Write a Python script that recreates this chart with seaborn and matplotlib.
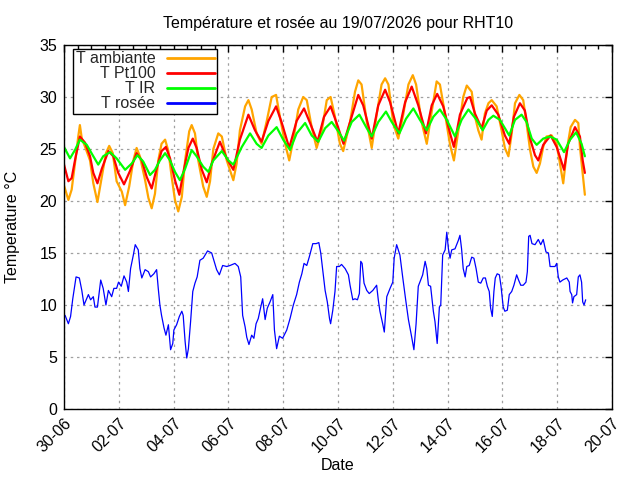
import numpy as np
import pandas as pd
import matplotlib
matplotlib.use("Agg")
import matplotlib.pyplot as plt
import matplotlib.dates as mdates
import seaborn as sns

# ---------------- data (day offsets from 2026-06-30 00:00) ----------------
amb_days = [0.00, 0.16, 0.28, 0.40, 0.52, 0.58, 0.65, 0.77, 0.95, 1.07, 1.22, 1.38, 1.53, 1.65, 1.78, 1.92,
            2.11, 2.23, 2.38, 2.53, 2.65, 2.77, 2.96, 3.08, 3.20, 3.32, 3.44, 3.56, 3.69, 3.81, 3.93, 4.05,
            4.17, 4.30, 4.42, 4.57, 4.66, 4.78, 4.90, 5.08, 5.21, 5.33, 5.45, 5.63, 5.76, 5.94, 6.18, 6.30,
            6.42, 6.61, 6.73, 6.85, 7.03, 7.21, 7.40, 7.58, 7.74, 7.88, 8.07, 8.22, 8.37, 8.55, 8.73, 8.86,
            9.04, 9.22, 9.41, 9.59, 9.73, 9.89, 10.07, 10.19, 10.44, 10.62, 10.74, 10.86, 11.05, 11.23, 11.41,
            11.59, 11.72, 11.84, 12.02, 12.20, 12.38, 12.57, 12.73, 12.85, 13.05, 13.24, 13.42, 13.60, 13.72,
            13.91, 14.09, 14.23, 14.39, 14.57, 14.70, 14.88, 15.00, 15.12, 15.24, 15.36, 15.49, 15.61, 15.79,
            15.97, 16.09, 16.22, 16.34, 16.46, 16.62, 16.76, 16.88, 17.01, 17.13, 17.25, 17.37, 17.49, 17.61,
            17.80, 17.98, 18.10, 18.22, 18.37, 18.49, 18.65, 18.77, 18.83, 18.93, 19.01]
amb_vals = [21.5, 20.1, 21.1, 23.6, 26.2, 27.3, 26.0, 25.2, 23.9, 21.7, 19.9, 22.3, 24.6, 25.3, 24.6, 21.9,
            20.9, 19.6, 21.4, 23.9, 25.1, 24.3, 22.0, 20.3, 19.3, 20.7, 23.9, 25.5, 25.9, 24.8, 22.3, 20.1,
            19.0, 20.4, 23.9, 26.7, 27.3, 26.5, 23.9, 21.4, 20.4, 21.9, 25.0, 26.5, 26.2, 23.9, 22.0, 23.6,
            26.8, 29.1, 29.7, 28.8, 26.5, 25.5, 27.7, 30.0, 30.2, 28.1, 25.5, 23.9, 25.9, 28.8, 30.0, 29.7,
            27.1, 25.1, 26.8, 29.7, 30.0, 28.1, 25.5, 24.8, 27.6, 30.5, 31.6, 31.2, 27.6, 25.1, 28.3,
            31.2, 31.8, 31.2, 27.4, 26.0, 28.3, 31.2, 32.1, 31.2, 27.6, 25.5, 28.6, 31.5, 31.2,
            28.3, 25.4, 23.9, 26.7, 30.0, 31.1, 30.5, 28.1, 26.8, 25.9, 28.4, 29.4, 29.7, 29.1,
            26.8, 25.1, 24.3, 26.5, 29.4, 30.2, 29.7, 27.5, 24.9, 23.3, 22.7, 23.6, 25.2, 26.2,
            26.3, 25.5, 23.6, 21.7, 25.2, 27.1, 27.8, 27.5, 25.2, 22.7, 20.6]

pt_days = [0.00, 0.16, 0.28, 0.40, 0.58, 0.77, 0.95, 1.07, 1.22, 1.38, 1.62, 1.80, 1.98, 2.19, 2.41, 2.65,
           2.84, 3.02, 3.20, 3.38, 3.56, 3.72, 3.87, 4.05, 4.21, 4.35, 4.54, 4.70, 4.84, 5.03, 5.21, 5.39,
           5.69, 5.94, 6.18, 6.42, 6.73, 6.97, 7.21, 7.46, 7.74, 7.95, 8.22, 8.49, 8.76, 8.98, 9.25, 9.49,
           9.73, 9.95, 10.20, 10.44, 10.74, 10.92, 11.23, 11.47, 11.72, 11.90, 12.20, 12.45, 12.69, 12.93,
           13.21, 13.42, 13.62, 13.84, 14.09, 14.23, 14.45, 14.72, 14.82, 15.00, 15.24, 15.43, 15.61, 15.85,
           16.09, 16.25, 16.42, 16.64, 16.82, 17.01, 17.19, 17.31, 17.49, 17.76, 17.98, 18.25, 18.40, 18.65,
           18.83, 18.93, 19.01]
pt_vals = [23.5, 21.9, 22.2, 23.9, 26.2, 25.6, 24.3, 22.7, 21.7, 23.1, 24.8, 24.3, 22.7, 21.6, 22.9, 24.6,
           23.9, 22.3, 21.2, 23.1, 24.8, 25.2, 24.1, 22.0, 20.6, 22.7, 25.1, 26.0, 25.1, 23.0, 21.8, 23.6,
           25.7, 24.1, 23.0, 25.9, 28.3, 26.8, 25.7, 27.7, 29.1, 27.5, 25.1, 27.7, 28.9, 27.5, 25.7, 28.1,
           29.1, 27.5, 25.5, 27.6, 30.2, 29.2, 26.0, 29.2, 30.7, 29.5, 26.5, 29.5, 31.0, 29.2,
           26.5, 29.2, 30.3, 29.1, 26.5, 25.2, 28.3, 29.9, 30.0, 28.4, 27.0, 28.7, 29.2, 28.3,
           26.3, 25.5, 28.1, 29.4, 28.7, 26.0, 24.4, 23.9, 25.4, 26.3, 25.2, 23.0, 25.5, 27.1,
           26.2, 23.9, 22.7]

ir_days = [0.00, 0.22, 0.40, 0.58, 0.83, 1.07, 1.25, 1.43, 1.68, 1.92, 2.23, 2.47, 2.68, 2.89, 3.14, 3.32,
           3.50, 3.69, 3.87, 4.05, 4.23, 4.42, 4.66, 4.84, 5.08, 5.27, 5.45, 5.76, 6.00, 6.18, 6.49, 6.79,
           7.03, 7.21, 7.46, 7.76, 8.00, 8.25, 8.49, 8.80, 9.04, 9.28, 9.53, 9.77, 10.01, 10.22, 10.50, 10.78,
           11.05, 11.23, 11.47, 11.75, 11.96, 12.24, 12.48, 12.75, 12.99, 13.24, 13.48, 13.72, 13.97, 14.27,
           14.51, 14.76, 14.82, 15.06, 15.28, 15.49, 15.67, 15.91, 16.25, 16.46, 16.70, 16.88, 17.07, 17.25,
           17.49, 17.74, 17.98, 18.25, 18.47, 18.69, 18.89, 19.01]
ir_vals = [25.2, 24.1, 24.9, 25.9, 25.4, 24.3, 23.5, 24.3, 24.7, 24.1, 23.0, 23.6, 24.4, 23.8, 22.5, 23.0,
           23.9, 24.6, 23.9, 22.8, 22.0, 23.1, 24.9, 24.3, 23.3, 22.8, 23.9, 24.8, 23.9, 23.5, 25.2, 26.5,
           25.5, 25.1, 26.3, 27.1, 25.9, 24.9, 26.5, 27.5, 26.3, 25.7, 27.0, 27.6, 26.7, 25.8, 27.6, 28.3,
           27.0, 26.2, 27.6, 28.6, 27.6, 26.5, 27.9, 28.9, 27.8, 26.8, 28.1, 28.8, 27.8, 26.2,
           27.8, 28.8, 28.6, 27.8, 26.8, 27.8, 28.2, 27.8, 26.3, 27.8, 28.3, 27.6, 26.0, 25.4,
           26.0, 26.2, 25.9, 24.7, 25.9, 26.6, 25.5, 24.3]

dew_days = [0.04, 0.16, 0.24, 0.32, 0.44, 0.56, 0.65, 0.73, 0.89, 0.97, 1.07, 1.13, 1.22, 1.34, 1.43, 1.53,
            1.62, 1.74, 1.82, 1.92, 1.99, 2.09, 2.19, 2.29, 2.35, 2.43, 2.53, 2.60, 2.71, 2.77, 2.84, 2.96,
            3.08, 3.16, 3.28, 3.38, 3.44, 3.50, 3.56, 3.65, 3.72, 3.81, 3.89, 3.97, 4.01, 4.11, 4.21, 4.30,
            4.35, 4.42, 4.48, 4.54, 4.62, 4.70, 4.78, 4.86, 4.96, 5.08, 5.24, 5.39, 5.47, 5.57, 5.67, 5.79,
            5.94, 6.06, 6.24, 6.36, 6.45, 6.52, 6.61, 6.67, 6.75, 6.85, 6.93, 7.01, 7.09, 7.18, 7.25, 7.34,
            7.42, 7.52, 7.62, 7.68, 7.76, 7.86, 7.98, 8.13, 8.25, 8.37, 8.49, 8.59, 8.68, 8.76, 8.86, 8.95,
            9.08, 9.20, 9.30, 9.37, 9.44, 9.53, 9.61, 9.69, 9.73, 9.81, 9.89, 9.95, 10.05, 10.13, 10.26, 10.38,
            10.44, 10.54, 10.62, 10.71, 10.78, 10.83, 10.88, 10.95, 11.05, 11.14, 11.27, 11.41, 11.47, 11.53,
            11.63, 11.69, 11.78, 11.90, 12.00, 12.05, 12.14, 12.26, 12.36, 12.47, 12.57, 12.69, 12.77, 12.85,
            12.93, 13.09, 13.18, 13.24, 13.30, 13.38, 13.48, 13.54, 13.58, 13.62, 13.70, 13.75, 13.82, 13.91,
            13.97, 14.03, 14.09, 14.15, 14.27, 14.39, 14.45, 14.51, 14.57, 14.64, 14.70, 14.79, 14.88, 14.96,
            15.04, 15.12, 15.21, 15.30, 15.38, 15.45, 15.52, 15.57, 15.63, 15.69, 15.74, 15.81, 15.89, 15.95,
            16.03, 16.09, 16.18, 16.25, 16.34, 16.42, 16.52, 16.59, 16.67, 16.76, 16.86, 16.91, 16.96, 17.01,
            17.08, 17.19, 17.31, 17.40, 17.49, 17.59, 17.68, 17.74, 17.84, 17.92, 17.98, 18.04, 18.10, 18.20,
            18.35, 18.44, 18.47, 18.53, 18.56, 18.61, 18.71, 18.77, 18.83, 18.89, 18.93, 18.98, 19.04]
dew_vals = [9.0, 8.2, 8.9, 10.6, 12.7, 12.6, 11.4, 10.0, 11.0, 10.5, 10.8, 9.8, 9.8, 12.4, 11.6, 10.0,
            11.4, 10.8, 11.6, 11.6, 12.2, 11.8, 12.8, 12.2, 11.3, 13.5, 14.8, 15.8, 15.3, 13.5, 12.6, 13.4,
            13.2, 12.7, 13.0, 13.4, 11.6, 10.0, 9.0, 7.8, 7.1, 8.1, 5.7, 6.3, 7.6, 8.1, 8.9, 9.4,
            9.0, 6.5, 4.9, 5.8, 8.4, 11.3, 12.1, 12.7, 14.3, 14.5, 15.2, 15.0, 14.3, 13.4, 12.9, 13.8,
            13.7, 13.8, 14.0, 13.7, 12.7, 9.0, 7.9, 6.9, 6.2, 7.1, 6.8, 8.2, 8.7, 9.8, 10.6, 8.6,
            9.7, 10.3, 11.0, 7.6, 5.8, 7.0, 6.8, 7.6, 8.7, 10.0, 11.0, 12.2, 13.0, 14.0, 13.8, 14.6,
            15.9, 15.9, 16.0, 15.0, 13.4, 11.4, 10.3, 8.7, 8.2, 9.5, 11.3, 13.7, 13.7, 13.9, 13.5, 12.9,
            11.9, 10.5, 10.6, 10.5, 11.1, 14.2, 14.0, 12.1, 11.4, 11.1, 11.4, 11.9, 10.5, 9.4,
            8.2, 7.4, 10.8, 11.6, 12.2, 14.5, 15.8, 14.8, 12.7, 10.5, 8.6, 6.9, 5.7, 8.2,
            11.8, 12.9, 14.2, 13.5, 11.9, 11.8, 9.4, 8.4, 7.4, 6.3, 9.8, 10.0, 14.8, 15.3,
            17.0, 15.4, 14.5, 15.3, 15.4, 16.2, 16.7, 15.4, 13.5, 12.7, 13.7, 13.8, 14.6, 14.5,
            13.5, 12.2, 12.1, 12.6, 12.6, 11.8, 11.3, 9.7, 8.9, 11.3, 12.6, 13.0, 12.9, 11.8,
            9.8, 9.4, 9.5, 11.0, 11.3, 11.9, 12.9, 12.4, 11.9, 11.9, 12.2, 13.2, 16.6, 16.7,
            15.9, 15.8, 16.3, 15.8, 16.3, 15.1, 15.0, 13.7, 13.7, 13.7, 14.0, 12.7, 12.2, 12.4,
            12.6, 12.2, 11.3, 11.0, 10.2, 10.8, 11.0, 12.7, 12.9, 12.2, 10.3, 10.0, 10.5]

series_labels = ["T ambiante", "T Pt100", "T IR", "T rosée"]
series_colors = ["#ffa500", "#ff0000", "#00ff00", "#0000ff"]
x_tick_dates = pd.date_range("2026-06-30", "2026-07-20", freq="2D")
title_text = "Température et rosée au 19/07/2026 pour RHT10"

start = pd.Timestamp("2026-06-30 00:00")


def to_df(days, vals):
    return pd.DataFrame({"t": start + pd.to_timedelta(np.asarray(days), unit="D"),
                         "v": np.asarray(vals, dtype=float)})


frames = [to_df(amb_days, amb_vals), to_df(pt_days, pt_vals),
          to_df(ir_days, ir_vals), to_df(dew_days, dew_vals)]
widths = [1.6, 1.6, 1.6, 0.9]

# ---------------- figure ----------------
sns.set_theme(style="white")
plt.rcParams["font.family"] = ["Liberation Sans", "DejaVu Sans"]
FS = 11.5
plt.rcParams["font.size"] = FS

fig = plt.figure(figsize=(6.4, 4.8), dpi=100)
ax = fig.add_axes([64 / 640, 71 / 480, 548 / 640, 364 / 480])

for df, lab, col, lw in zip(frames, series_labels, series_colors, widths):
    sns.lineplot(data=df, x="t", y="v", ax=ax, color=col, linewidth=lw, label=lab,
                 estimator=None, sort=False, legend=False)

ax.set_xlim(x_tick_dates[0], x_tick_dates[-1])
ax.set_ylim(0, 35)
ax.set_yticks(np.arange(0, 36, 5))
ax.set_xticks(x_tick_dates)
ax.xaxis.set_major_formatter(mdates.DateFormatter("%d-%m"))
ax.xaxis.set_minor_locator(mdates.HourLocator(byhour=[0, 12]))

ax.grid(True, which="major", color="#a0a0a0", linestyle=(0, (2, 3)), linewidth=0.9)
ax.set_axisbelow(True)
for s in ax.spines.values():
    s.set_color("black")
    s.set_linewidth(1.0)

ax.tick_params(axis="both", which="both", direction="in", top=True, right=True,
               colors="black", labelsize=FS)
ax.tick_params(axis="both", which="major", length=5, width=1.0, pad=5)
ax.tick_params(axis="x", which="minor", length=3, width=1.0)
ax.tick_params(axis="y", which="minor", length=0)
for lbl in ax.get_xticklabels():
    lbl.set_rotation(45)
    lbl.set_ha("right")
    lbl.set_va("top")
    lbl.set_rotation_mode("anchor")

ax.set_title(title_text, fontsize=FS, pad=12.5, color="black")
ax.set_xlabel("Date", fontsize=FS, color="black")
ax.set_ylabel("Temperature °C", fontsize=FS, color="black")
ax.xaxis.set_label_coords(0.5, -0.135)
ax.yaxis.set_label_coords(-0.080, 0.5)

handles, labels = ax.get_legend_handles_labels()
leg = ax.legend(handles, labels, loc="upper left", bbox_to_anchor=(0.017, 0.989),
                borderaxespad=0, markerfirst=False, fancybox=False, framealpha=1,
                edgecolor="black", fontsize=FS, handlelength=3.0, handletextpad=0.7,
                labelspacing=0.0, borderpad=0.15)
leg.get_frame().set_linewidth(1.0)
for ln in leg.get_lines():
    ln.set_linewidth(2.0)

fig.savefig("out.png", dpi=100)
